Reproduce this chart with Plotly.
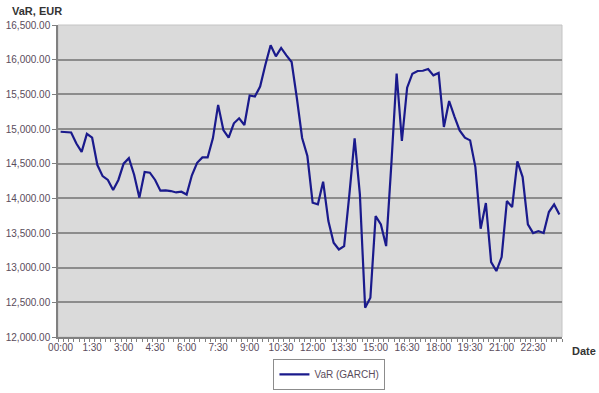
import plotly.graph_objects as go

# Intraday Value-at-Risk (GARCH), one reading every 15 minutes
slot_index = list(range(96))
slot_times = [f"{(i * 15) // 60:02d}:{(i * 15) % 60:02d}" for i in slot_index]

var_garch = [
    14960, 14950, 14950, 14790, 14670, 14930, 14875, 14480, 14320, 14265,
    14120, 14265, 14500, 14580, 14340, 14010, 14380, 14370, 14265, 14110,
    14115, 14105, 14085, 14095, 14055, 14333, 14512, 14590, 14590, 14865,
    15348, 14985, 14874, 15082, 15154, 15058, 15483, 15468, 15613, 15927,
    16207, 16048, 16169, 16062, 15966, 15444, 14870, 14610, 13937, 13913,
    14240, 13672, 13360, 13263, 13311, 14057, 14865, 14057, 12422, 12566,
    13744, 13624, 13311, 14500, 15800, 14827, 15596, 15798, 15837, 15840,
    15865, 15774, 15808, 15029, 15404, 15183, 14980, 14875, 14836, 14451,
    13562, 13932, 13081, 12951, 13153, 13961, 13874, 14533, 14307, 13624,
    13499, 13528, 13499, 13802, 13913, 13768,
]

tick_positions = [0, 6, 12, 18, 24, 30, 36, 42, 48, 54, 60, 66, 72, 78, 84, 90]
tick_labels = ["00:00", "1:30", "3:00", "4:30", "6:00", "7:30", "9:00", "10:30",
               "12:00", "13:30", "15:00", "16:30", "18:00", "19:30", "21:00", "22:30"]

y_ticks = [12000, 12500, 13000, 13500, 14000, 14500, 15000, 15500, 16000, 16500]

FONT = "Liberation Sans, Arial, sans-serif"
LABEL_COLOR = "#5a4c5c"

fig = go.Figure()
fig.add_trace(go.Scatter(
    x=slot_index,
    y=var_garch,
    customdata=slot_times,
    mode="lines",
    name="VaR (GARCH)",
    line=dict(color="#1a1a8c", width=2.2),
    hovertemplate="%{customdata}: %{y:,.2f}<extra></extra>",
))

fig.update_layout(
    width=599,
    height=393,
    margin=dict(l=58, r=37, t=25, b=56, autoexpand=False),
    paper_bgcolor="white",
    plot_bgcolor="#dadada",
    font=dict(family=FONT, size=10, color=LABEL_COLOR),
    showlegend=True,
    legend=dict(
        orientation="h",
        xref="container", yref="container",
        x=0.55, xanchor="center",
        y=0.008, yanchor="bottom",
        bordercolor="#8c8c8c", borderwidth=1,
        bgcolor="white",
        font=dict(family=FONT, size=10, color=LABEL_COLOR),
        itemwidth=30,
    ),
    xaxis=dict(
        range=[-0.5, 95.5],
        automargin=False,
        tickmode="array",
        tickvals=tick_positions,
        ticktext=tick_labels,
        ticks="",
        showgrid=False,
        zeroline=False,
        showline=True,
        linecolor="#808080",
        linewidth=1.5,
        tickfont=dict(family=FONT, size=10, color=LABEL_COLOR),
        minor=dict(
            tickmode="array",
            tickvals=[i - 0.5 for i in range(97)],
            ticks="outside",
            ticklen=3,
            tickcolor="#808080",
            tickwidth=1,
            showgrid=False,
        ),
    ),
    yaxis=dict(
        range=[12000, 16500],
        automargin=False,
        tickmode="array",
        tickvals=y_ticks,
        tickformat=",.2f",
        ticks="outside",
        ticklen=4,
        tickcolor="#808080",
        showgrid=True,
        gridcolor="#8c8c8c",
        gridwidth=1.5,
        zeroline=False,
        showline=True,
        linecolor="#808080",
        linewidth=1.5,
        tickfont=dict(family=FONT, size=10, color=LABEL_COLOR),
    ),
    shapes=[
        dict(type="rect", xref="paper", yref="paper", x0=0, x1=1, y0=0, y1=1,
             line=dict(color="#c4c4c4", width=1), layer="below"),
    ],
    annotations=[
        dict(text="<b>VaR, EUR</b>", xref="paper", yref="paper",
             x=-0.095, y=1.045, xanchor="left", yanchor="middle",
             showarrow=False, font=dict(family=FONT, size=11, color="#333333")),
        dict(text="<b>Date</b>", xref="paper", yref="paper",
             x=1.016, y=-0.045, xanchor="left", yanchor="middle",
             showarrow=False, font=dict(family=FONT, size=11, color="#333333")),
    ],
)

fig.write_html("out.html")
